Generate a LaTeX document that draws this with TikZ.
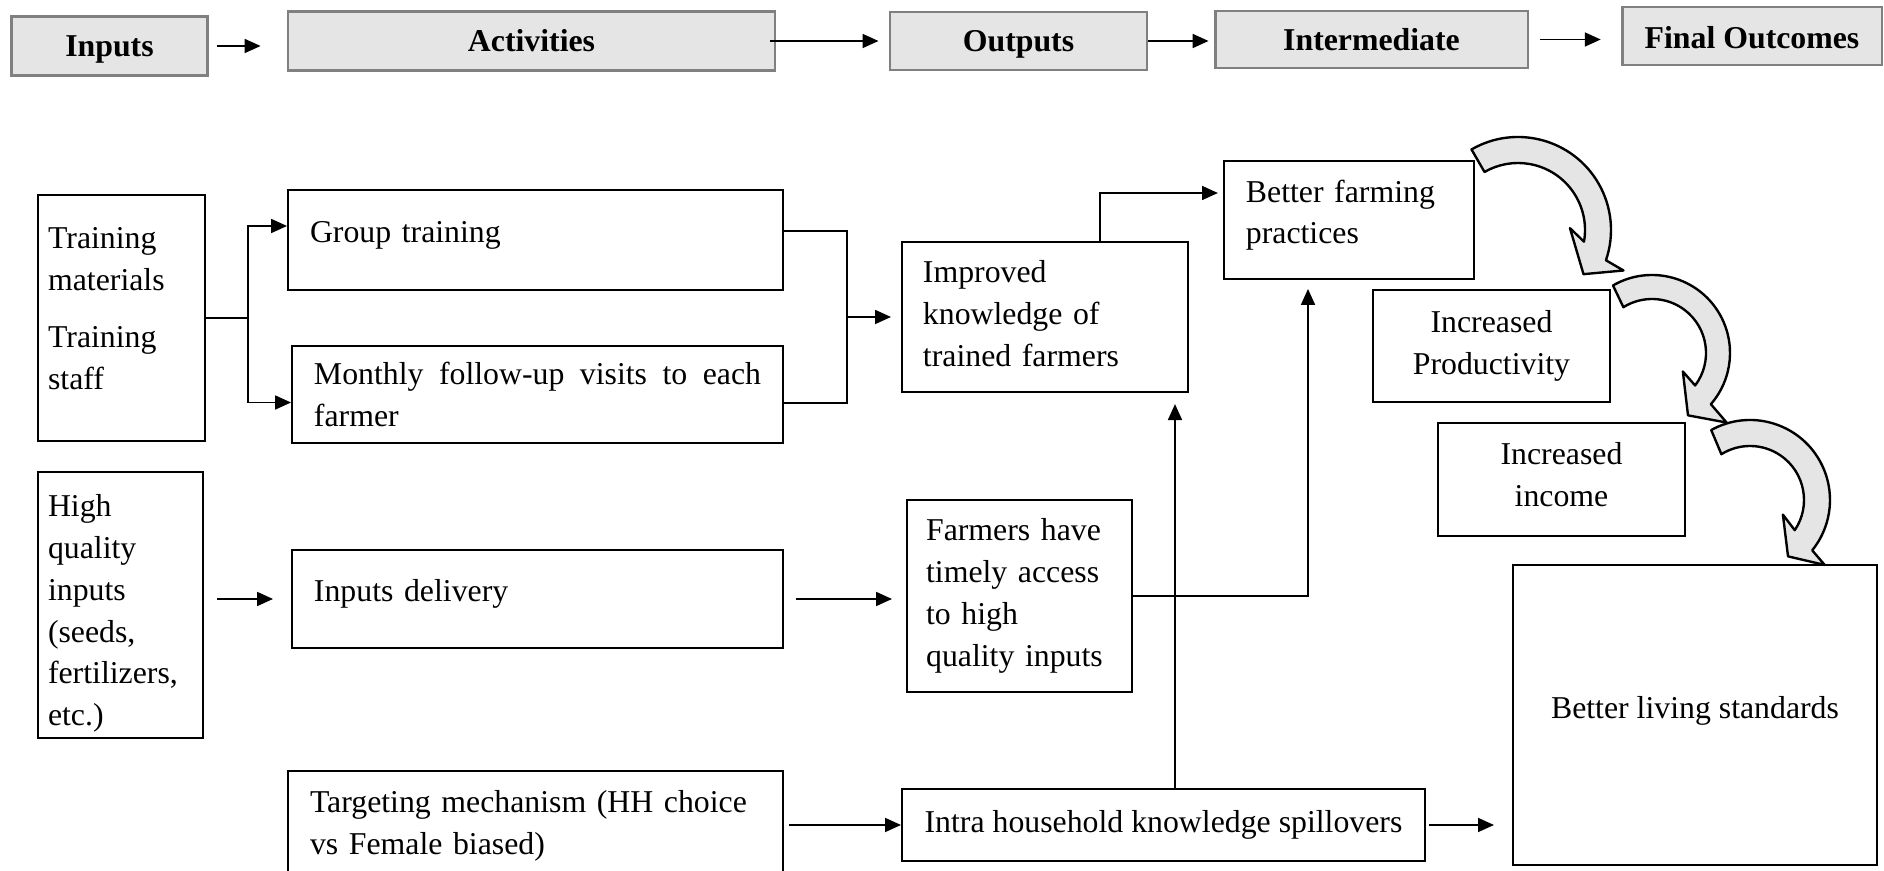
\documentclass[tikz,border=0pt]{standalone}
\usepackage{fontspec}
\setmainfont{Liberation Serif}
\usetikzlibrary{arrows.meta, calc}

\begin{document}
\begin{tikzpicture}[
  x=0.3774pt, y=-0.3774pt,
  font=\fontsize{12}{15.8}\selectfont,
  box/.style ={draw, line width=0.75pt, inner sep=0pt, align=left},
  cbox/.style={box, align=center},
  hdr/.style ={draw=gray, line width=1.1pt, fill=gray!20, inner sep=0pt,
               text height=8pt, text depth=0pt,
               font=\fontsize{12}{15.8}\selectfont\bfseries},
  line/.style={line width=0.55pt},
  arr/.style ={line, -{Triangle[length=6pt, width=5.3pt]}},
  curl/.style={draw, line width=0.9pt, fill=gray!20, line join=round},
]
  \useasboundingbox (0,0) rectangle (1884,871);

  % header row
  \node[hdr, minimum width=74.3pt,  minimum height=22.6pt] (hin)  at (109.5,46)  {Inputs};
  \node[hdr, minimum width=183.8pt, minimum height=22.6pt] (hact) at (531.5,41)  {Activities};
  \node[hdr, minimum width=97pt,    minimum height=21.9pt] (hout) at (1018.5,41) {Outputs};
  \node[hdr, minimum width=118.1pt, minimum height=21.5pt] (hint) at (1371.5,39.5) {Intermediate};
  \node[hdr, minimum width=98.1pt,  minimum height=21.9pt, text height=9.8pt] (hfin) at (1752,36) {Final Outcomes};

  \draw[arr, shorten <=3pt, shorten >=9.8pt]   (hin.east)  -- (hin.east -| hact.west);
  \draw[arr, shorten <=-2.3pt, shorten >=3.8pt] (hact.east) -- (hact.east -| hout.west);
  \draw[arr, shorten >=1.9pt]                   (hout.east) -- (hout.east -| hint.west);
  \draw[arr, shorten <=3.8pt, shorten >=7.5pt]  (hint.east) -- (hint.east -| hfin.west);

  % inputs and activities
  \node[box, text width=55.4pt, inner xsep=3.8pt, minimum height=92.8pt]  (train)   at (121.5,318) {Training\\materials\\[6pt]Training\\staff\rule[-7.2pt]{0pt}{7.2pt}};
  \node[box, text width=54.7pt, inner xsep=3.8pt, minimum height=100.4pt] (hq)      at (120.5,605) {\rule{0pt}{14.7pt}High\\quality\\inputs\\(seeds,\\fertilizers,\\etc.)};
  \node[box, text width=170.2pt, inner xsep=8.3pt, minimum height=37.7pt] (group)   at (535.5,240) {Group training\rule[-6.2pt]{0pt}{6.2pt}};
  \node[box, text width=168.7pt, inner xsep=8.3pt, minimum height=36.6pt, align=justify] (monthly) at (537.5,394.5) {Monthly follow-up visits to each\linebreak farmer};
  \node[box, text width=168.7pt, inner xsep=8.3pt, minimum height=37pt]   (deliv)   at (537.5,599) {Inputs delivery\rule[-6.2pt]{0pt}{6.2pt}};
  \node[box, text width=170.2pt, inner xsep=8.3pt, minimum height=41.1pt] (target)  at (535.5,825.5) {Targeting mechanism (HH choice\\vs Female biased)};

  % outputs and outcomes
  \node[box, text width=92.1pt, inner xsep=7.9pt, minimum height=56.6pt]  (know)    at (1045,317)  {Improved\\knowledge of\\trained farmers\rule[-2.8pt]{0pt}{2.8pt}};
  \node[box, text width=70.5pt, inner xsep=7.2pt, minimum height=72.5pt]  (access)  at (1019.5,596) {Farmers have\\timely access\\to high\\quality inputs};
  \node[cbox, minimum width=197.4pt, minimum height=27.2pt]               (spill)   at (1163.5,825) {Intra household knowledge spillovers};
  \node[box, text width=77.8pt, inner xsep=8.3pt, minimum height=44.5pt]  (farm)    at (1349,220)  {Better farming\\practices\rule[-6.2pt]{0pt}{6.2pt}};
  \node[cbox, minimum width=89.4pt,  minimum height=42.3pt]               (prod)    at (1491.5,346) {Increased\\Productivity};
  \node[cbox, minimum width=93.2pt,  minimum height=42.6pt]               (income)  at (1561.5,479.5) {Increased\\income\rule[-3.6pt]{0pt}{3.6pt}};
  \node[cbox, minimum width=137.4pt, minimum height=113.2pt]              (living)  at (1695,715)  {Better living standards\rule[-5.4pt]{0pt}{5.4pt}};

  \draw[arr] (train.east) -- ++(42,0) |- ($(group.west)+(0,-14)$);
  \draw[arr] (train.east) -- ++(42,0) |- ($(monthly.west)+(0,8)$);
  \draw[line] ($(group.east)+(0,-9)$) -- ++(63,0) coordinate (gj) |- ($(monthly.east)+(0,8.5)$);
  \draw[arr, shorten >=3.8pt] (gj |- know.west) -- (know.west);
  \draw[arr, shorten >=1.9pt] ($(know.north)+(55,0)$) |- ($(farm.west)+(0,-27)$);
  \draw[arr, shorten >=3.4pt] (access.east) -| ($(farm.south)+(-41,0)$);
  \draw[arr, shorten >=4.2pt] ($(spill.north)+(11.5,0)$) coordinate (sk) -- (sk |- know.south);
  \draw[arr, shorten <=4.9pt, shorten >=6.8pt] (hq.east |- deliv.west) -- (deliv.west);
  \draw[arr, shorten <=4.5pt, shorten >=5.3pt] (deliv.east) -- (deliv.east -| access.west);
  \draw[arr, shorten <=1.9pt] (target.east |- spill.west) -- (spill.west);
  \draw[arr, shorten <=1.1pt, shorten >=6.8pt] (spill.east) -- (spill.east -| living.west);

  % curved block arrows
  \begin{scope}[shift={(1518,230)}, yscale=-1]
    \draw[curl] (120:93) arc[start angle=120, end angle=-19, radius=93] -- (-21:113) -- (-34:79)
      -- (2:52) -- (-10:67) arc[start angle=-10, end angle=120, radius=67] -- cycle;
  \end{scope}
  \begin{scope}[shift={(1652,353)}, yscale=-1]
    \draw[curl] (120:78) arc[start angle=120, end angle=-41, radius=78] -- (-43:102) -- (-60:72)
      -- (-31:36) -- (-37:54) arc[start angle=-37, end angle=122, radius=54] -- cycle;
  \end{scope}
  \begin{scope}[shift={(1750,500)}, yscale=-1]
    \draw[curl] (119:80) arc[start angle=119, end angle=-39, radius=80] -- (-41:99) -- (-56:68)
      -- (-24:36) -- (-34:54) arc[start angle=-34, end angle=122, radius=54] -- cycle;
  \end{scope}
\end{tikzpicture}
\end{document}
